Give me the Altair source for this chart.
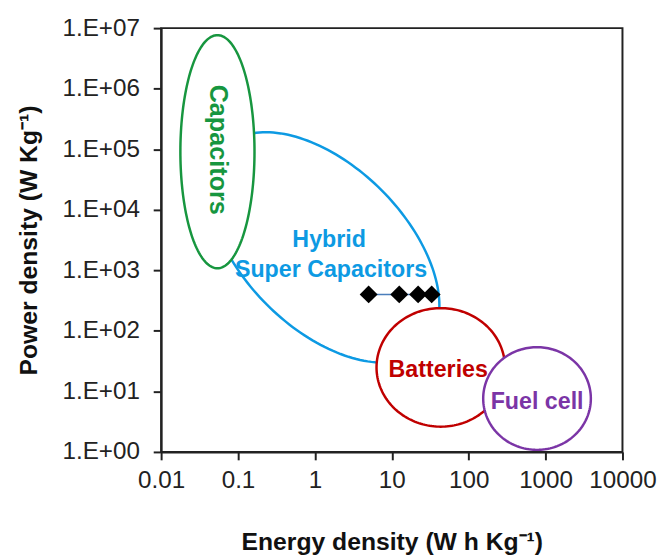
import altair as alt
import numpy as np
import pandas as pd

# ---- Ragone-plot regions (ellipses in log-log space) ----
# centre (energy W h/kg, power W/kg) and two semi-axis vectors in decades (x, y)
region_names = ["Hybrid", "Capacitors", "Batteries", "Fuel cell"]
region_cx = [1.32, 0.054, 43.3, 774.0]
region_cy = [2390.0, 9.1e4, 24.9, 7.62]
region_u = [(1.30, -1.65), (0.482, 0.0), (0.835, 0.0), (0.700, 0.0)]
region_v = [(-0.745, -0.946), (0.0, 1.925), (0.0, 0.979), (0.0, 0.848)]
region_colors = ["#0D9AE3", "#17963F", "#C00000", "#7B35A6"]

# ---- measured device points ----
energy = [5.0, 12.5, 22.0, 33.0]
power = [400.0, 400.0, 400.0, 400.0]

# ---- region labels ----
label_text = ["Capacitors", "Hybrid", "Super Capacitors", "Batteries", "Fuel cell"]
label_x = [0.054, 1.53, 1.62, 40.2, 776.0]
label_y = [9.8e4, 3100.0, 1000.0, 22.9, 6.55]
label_color = ["#17963F", "#0D9AE3", "#0D9AE3", "#C00000", "#7B35A6"]
label_angle = [90, 0, 0, 0, 0]

x_ticks = [0.01, 0.1, 1, 10, 100, 1000, 10000]
y_ticks = [1, 10, 100, 1e3, 1e4, 1e5, 1e6, 1e7]

FONT = "Liberation Sans"

# build ellipse outlines
rows = []
t = np.linspace(0, 2 * np.pi, 181)
for name, cx, cy, u, v in zip(region_names, region_cx, region_cy, region_u, region_v):
    lx = np.log10(cx) + u[0] * np.cos(t) + v[0] * np.sin(t)
    ly = np.log10(cy) + u[1] * np.cos(t) + v[1] * np.sin(t)
    for i, (a, b) in enumerate(zip(lx, ly)):
        rows.append({"region": name, "i": i, "x": 10 ** a, "y": 10 ** b})
ell = pd.DataFrame(rows)

pts = pd.DataFrame({"x": energy, "y": power})
labs = pd.DataFrame({"text": label_text, "x": label_x, "y": label_y,
                     "color": label_color, "angle": label_angle})

xscale = alt.Scale(type="log", domain=[0.01, 10000], nice=False)
yscale = alt.Scale(type="log", domain=[1, 1e7], nice=False)

xaxis = alt.Axis(values=x_ticks, labelExpr="'' + datum.value", grid=False,
                 labelFlush=False, labelOverlap=False,
                 title="Energy density (W h Kg⁻¹)", titleFont=FONT, titleFontSize=25,
                 titleFontWeight="bold", titleColor="#111", titleX=233.5, titleY=99,
                 titleAlign="center", titleBaseline="alphabetic",
                 labelFont=FONT, labelFontSize=24.5, labelColor="#222", labelPadding=9,
                 domainColor="#222", domainWidth=2, tickColor="#222", tickWidth=2, tickSize=8)
yaxis = alt.Axis(values=y_ticks, labelExpr="'1.E+0' + round(log(datum.value)/LN10)", grid=False,
                 labelFlush=False, labelOverlap=False,
                 title="Power density (W Kg⁻¹)", titleFont=FONT, titleFontSize=25,
                 titleFontWeight="bold", titleColor="#111", titleX=-134, titleY=214.5,
                 titleAngle=-90, titleAlign="center", titleBaseline="middle",
                 labelFont=FONT, labelFontSize=24.5, labelColor="#222", labelPadding=14,
                 domainColor="#222", domainWidth=2, tickColor="#222", tickWidth=2, tickSize=8)


def X():
    return alt.X("x:Q", scale=xscale, axis=xaxis)


def Y():
    return alt.Y("y:Q", scale=yscale, axis=yaxis)


layers = []
base_ell = alt.Chart(ell)
for name, col in zip(region_names, region_colors):
    layers.append(
        base_ell.transform_filter(alt.datum.region == name)
        .mark_line(fill="white", stroke=col, strokeWidth=2.5, interpolate="linear-closed")
        .encode(x=X(), y=Y(), order=alt.Order("i:Q"))
    )

link = alt.Chart(pts).mark_line(color="#4A7EBB", strokeWidth=1.5).encode(x=X(), y=Y())
diam = alt.Chart(pts).mark_point(shape="diamond", filled=True, color="black", size=330,
                                 opacity=1).encode(x=X(), y=Y())
layers += [link, diam]

for txt, c, ang in zip(label_text, label_color, label_angle):
    size = 25.5 if txt == "Capacitors" else 23.5
    layers.append(
        alt.Chart(labs).transform_filter(alt.datum.text == txt)
        .mark_text(font=FONT, fontWeight="bold", fontSize=size, color=c, angle=ang,
                   align="center", baseline="middle")
        .encode(x=X(), y=Y(), text="text:N")
    )

chart = alt.layer(*layers).properties(
    width=467, height=429,
    autosize=alt.AutoSizeParams(type="none"),
    padding={"left": 155, "top": 17, "right": 39, "bottom": 104},
).configure_view(stroke="#222", strokeWidth=2)

chart.save("out.html", embed_options={"renderer": "svg", "actions": False})
